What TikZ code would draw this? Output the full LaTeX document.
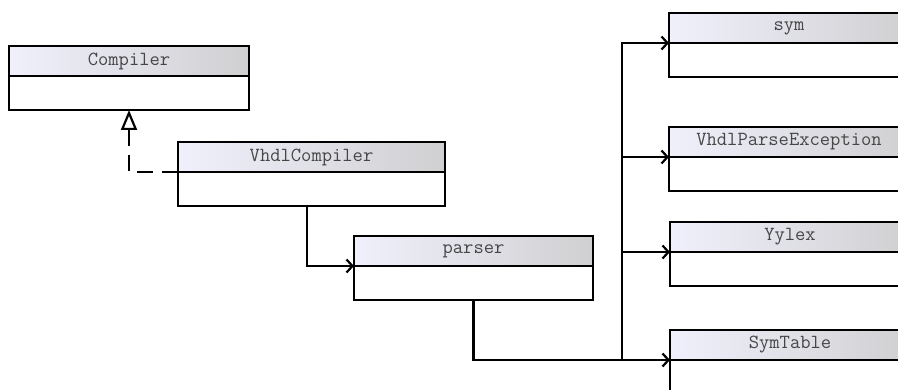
\documentclass[tikz,border=0pt]{standalone}
\usepackage{fontspec}
\usetikzlibrary{arrows.meta}
\definecolor{hdrL}{RGB}{240,240,252}
\definecolor{hdrR}{RGB}{208,208,210}
\definecolor{txt}{RGB}{70,70,70}
\tikzset{
  hdr/.style={draw=black, line width=2.2pt, left color=hdrL, right color=hdrR,
    inner sep=0pt, outer sep=0pt, anchor=north west, minimum height=30pt,
    font=\ttfamily\fontsize{20}{22}\selectfont, text=txt},
  bodybox/.style={draw=black, line width=2.2pt, fill=white, inner sep=0pt,
    outer sep=0pt, anchor=north, minimum height=34pt},
  link/.style={line width=2.2pt, -{Straight Barb[length=6pt,width=13pt,line width=2.2pt]}},
  realize/.style={line width=2.2pt, dash pattern=on 16pt off 9pt,
    -{Triangle[open,length=20pt,width=16pt,line width=2.2pt]}}
}
\begin{document}
\begin{tikzpicture}[x=1pt,y=-1pt]
\useasboundingbox (0,0) rectangle (898,390);
\clip (0,0) rectangle (898,390);
% class boxes: header with name, empty body below
\node[hdr, minimum width=240pt] (comp) at (9,46) {Compiler};
\node[bodybox, minimum width=240pt] (compb) at (comp.south) {};
\node[hdr, minimum width=267pt] (vc) at (178,142) {VhdlCompiler};
\node[bodybox, minimum width=267pt] (vcb) at (vc.south) {};
\node[hdr, minimum width=239pt] (par) at (354,236) {parser};
\node[bodybox, minimum width=239pt] (parb) at (par.south) {};
\node[hdr, minimum width=240pt] (sym) at (669,13) {sym};
\node[bodybox, minimum width=240pt] (symb) at (sym.south) {};
\node[hdr, minimum width=240pt] (vpe) at (669,127) {VhdlParseException};
\node[bodybox, minimum width=240pt] (vpeb) at (vpe.south) {};
\node[hdr, minimum width=240pt] (yy) at (670,222) {Yylex};
\node[bodybox, minimum width=240pt] (yyb) at (yy.south) {};
\node[hdr, minimum width=240pt] (st) at (670,330) {SymTable};
\node[bodybox, minimum width=240pt, minimum height=60pt] (stb) at (st.south) {};
% realization
\draw[realize] (vc.south west) -| (compb.south);
% associations
\draw[link] ([xshift=-4.5pt]vcb.south) |- (par.south west);
\draw[link] (parb.south) |- (st.south west);
\coordinate (bus) at (622,359);
\draw[link] (bus) |- (sym.south west);
\draw[link] (bus) |- (vpe.south west);
\draw[link] (bus) |- (yy.south west);
\end{tikzpicture}
\end{document}
